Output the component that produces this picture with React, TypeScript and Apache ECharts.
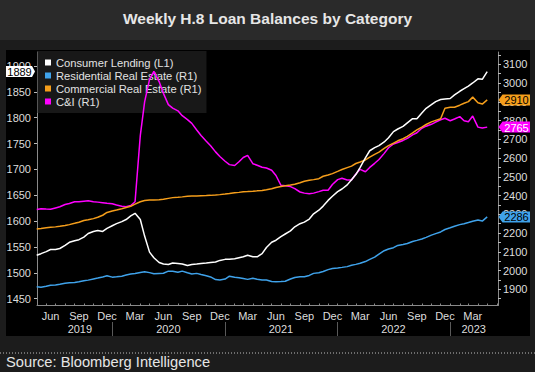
import React, { useEffect, useRef } from "react";
import * as echarts from "echarts";

const dates = [
  "2019-05-01","2019-05-15","2019-06-01","2019-06-15","2019-07-01","2019-07-15","2019-08-01","2019-08-15",
  "2019-09-01","2019-09-15","2019-10-01","2019-10-15","2019-11-01","2019-11-15","2019-12-01","2019-12-15",
  "2020-01-01","2020-01-15","2020-02-01","2020-02-15","2020-03-01","2020-03-15","2020-04-01","2020-04-15",
  "2020-05-01","2020-05-15","2020-06-01","2020-06-15","2020-07-01","2020-07-15","2020-08-01","2020-08-15",
  "2020-09-01","2020-09-15","2020-10-01","2020-10-15","2020-11-01","2020-11-15","2020-12-01","2020-12-15",
  "2021-01-01","2021-01-15","2021-02-01","2021-02-15","2021-03-01","2021-03-15","2021-04-01","2021-04-15",
  "2021-05-01","2021-05-15","2021-06-01","2021-06-15","2021-07-01","2021-07-15","2021-08-01","2021-08-15",
  "2021-09-01","2021-09-15","2021-10-01","2021-10-15","2021-11-01","2021-11-15","2021-12-01","2021-12-15",
  "2022-01-01","2022-01-15","2022-02-01","2022-02-15","2022-03-01","2022-03-15","2022-04-01","2022-04-15",
  "2022-05-01","2022-05-15","2022-06-01","2022-06-15","2022-07-01","2022-07-15","2022-08-01","2022-08-15",
  "2022-09-01","2022-09-15","2022-10-01","2022-10-15","2022-11-01","2022-11-15","2022-12-01","2022-12-15",
  "2023-01-01","2023-01-15","2023-02-01","2023-02-15","2023-03-01","2023-03-15","2023-04-01","2023-04-15",
  "2023-05-01",
];

const consumerLending = [
  1534,1537,1541,1545,1545,1547,1553,1559,1562,1564,1569,1576,1580,1582,1580,1586,
  1591,1595,1599,1603,1610,1615,1603,1571,1540,1529,1520,1517,1516,1519,1518,1517,1514,1516,1517,1518,1519,1520,1521,1524,
  1526,1526,1527,1529,1531,1534,1531,1531,1537,1549,1559,1563,1570,1575,1581,1589,1595,1598,1604,1614,1621,1629,1640,1648,
  1657,1662,1670,1680,1690,1704,1722,1736,1742,1746,1753,1761,1773,1778,1783,1790,1798,1798,1809,1818,1825,1831,1835,1836,
  1837,1844,1851,1856,1861,1867,1875,1874,1889,
];

const residentialRE = [
  1914,1911,1916,1922,1923,1927,1932,1935,1936,1940,1946,1949,1955,1960,1966,1972,
  1965,1967,1970,1976,1982,1984,1990,1994,1989,1983,1985,1986,1997,1996,1991,1997,1988,1982,1985,1979,1972,1966,1952,1950,
  1955,1970,1964,1962,1958,1953,1959,1954,1950,1950,1942,1941,1942,1943,1955,1963,1967,1967,1974,1985,1988,1995,2005,2011,
  2014,2017,2021,2028,2033,2039,2048,2060,2072,2088,2106,2115,2122,2134,2139,2144,2155,2161,2168,2177,2189,2197,2206,2219,
  2228,2236,2245,2250,2256,2263,2270,2264,2286,
];

const commercialRE = [
  2222,2224,2228,2231,2233,2236,2240,2245,2252,2258,2267,2271,2277,2284,2295,2310,
  2318,2323,2330,2336,2343,2354,2367,2374,2376,2376,2378,2380,2385,2389,2391,2393,2396,2398,2398,2399,2400,2401,2403,2405,
  2408,2411,2415,2417,2420,2421,2423,2425,2427,2431,2436,2443,2448,2452,2456,2460,2468,2476,2482,2485,2490,2503,2510,2517,
  2529,2539,2549,2557,2571,2579,2590,2605,2620,2632,2652,2666,2679,2692,2703,2716,2734,2750,2765,2779,2793,2801,2810,2866,
  2871,2871,2882,2892,2901,2925,2895,2888,2910,
];

const cAndI = [
  2326,2330,2328,2327,2334,2340,2352,2358,2367,2367,2370,2372,2367,2365,2362,2359,
  2356,2350,2343,2341,2347,2367,2720,2900,3020,3062,3008,2945,2885,2866,2852,2826,2805,2785,2750,2720,2690,2666,2633,2608,
  2583,2565,2560,2580,2603,2614,2570,2562,2551,2547,2535,2507,2455,2452,2448,2437,2419,2413,2410,2413,2421,2428,2428,2459,
  2485,2492,2483,2483,2515,2540,2527,2550,2572,2592,2625,2655,2675,2683,2694,2705,2724,2735,2759,2770,2780,2792,2804,2812,
  2799,2808,2821,2799,2794,2824,2765,2760,2765,
];

const seriesNames = ["Consumer Lending (L1)", "Residential Real Estate (R1)", "Commercial Real Estate (R1)", "C&I (R1)"];
const seriesColors = ["#ffffff", "#3fa2ea", "#f59e1b", "#ff00ff"];
const tagTextColors = ["#000000", "#000000", "#000000", "#ffffff"];

const leftLabels = [1450, 1500, 1550, 1600, 1650, 1700, 1750, 1800, 1850, 1900];
const rightLabels = [1900, 2000, 2100, 2200, 2300, 2400, 2500, 2600, 2700, 2800, 2900, 3000, 3100];
const rightTicks = [
  1850, 1900, 1950, 2000, 2050, 2100, 2150, 2200, 2250, 2300, 2350, 2400, 2450, 2500,
  2550, 2600, 2650, 2700, 2750, 2800, 2850, 2900, 2950, 3000, 3050, 3100, 3150,
];
const monthLabelDates = [
  "2019-06-15","2019-09-15","2019-12-15","2020-03-15","2020-06-15","2020-09-15","2020-12-15",
  "2021-03-15","2021-06-15","2021-09-15","2021-12-15","2022-03-15","2022-06-15","2022-09-15",
  "2022-12-15","2023-03-15",
];
const monthNames = ["Jan","Feb","Mar","Apr","May","Jun","Jul","Aug","Sep","Oct","Nov","Dec"];
const yearLabelDates = ["2019-09-18", "2020-07-01", "2021-07-01", "2022-07-01", "2023-03-18"];
const yearBoundaries = ["2020-01-01", "2021-01-01", "2022-01-01", "2023-01-01"];
const xStart = "2019-05-02";
const xEnd = "2023-06-05";

const FONT = "'Liberation Sans', Arial, sans-serif";
const ts = (d: string) => Date.parse(d + "T00:00:00Z");

export default function App() {
  const ref = useRef<HTMLDivElement>(null);

  useEffect(() => {
    if (!ref.current) return;
    const chart = echarts.init(ref.current, undefined, { renderer: "svg" });

    const monthTicks: number[] = [];
    for (let y = 2019; y <= 2023; y++) {
      for (let m = 0; m < 12; m++) {
        const t = Date.UTC(y, m, 1);
        if (t > ts(xStart) && t < ts(xEnd)) monthTicks.push(t);
      }
    }

    const allSeries = [consumerLending, residentialRE, commercialRE, cAndI];

    const staticGraphics: any[] = [
      { type: "rect", id: "titleband", z: -10, silent: true, shape: { x: 0, y: 0, width: 535, height: 40 }, style: { fill: "#2a2a2a" } },
      { type: "rect", id: "panel", z: -9, silent: true, shape: { x: 6, y: 50, width: 524, height: 286 }, style: { fill: "#000000" } },
      {
        type: "text", id: "title", z: 10, x: 267.5, y: 18,
        style: { text: "Weekly H.8 Loan Balances by Category", fill: "#e6e6e6", font: `bold 15.5px ${FONT}`, align: "center", verticalAlign: "middle" },
      },
      {
        type: "line", id: "dots", z: 10, silent: true,
        shape: { x1: 0, y1: 353, x2: 535, y2: 353 },
        style: { stroke: "#bdbdbd", lineWidth: 1, lineDash: [1, 2] },
      },
      {
        type: "text", id: "source", z: 10, x: 6, y: 362,
        style: { text: "Source: Bloomberg Intelligence", fill: "#e6e6e6", font: `14.7px ${FONT}`, align: "left", verticalAlign: "middle" },
      },
    ];

    chart.setOption({
      animation: false,
      backgroundColor: "#1c1c1c",
      textStyle: { fontFamily: FONT },
      grid: { left: 37, right: 37, top: 52, bottom: 66.5, containLabel: false },
      legend: {
        orient: "vertical",
        left: 37,
        top: 51,
        z: 1,
        backgroundColor: "rgba(44,44,44,0.55)",
        padding: [5, 5, 5, 8],
        itemWidth: 6,
        itemHeight: 6,
        itemGap: 0,
        icon: "rect",
        selectedMode: false,
        textStyle: { color: "#e2e2e2", fontSize: 11.2, lineHeight: 13, fontFamily: FONT },
        data: seriesNames,
      },
      xAxis: [
        {
          type: "value",
          min: ts(xStart),
          max: ts(xEnd),
          splitLine: { show: false },
          axisLine: { show: true, lineStyle: { color: "#8a8a8a", width: 1 } },
          axisTick: { show: true, inside: true, length: 2, customValues: monthTicks, lineStyle: { color: "#8a8a8a" } },
          axisLabel: {
            color: "#dddddd",
            fontSize: 11,
            margin: 5,
            fontFamily: FONT,
            customValues: monthLabelDates.map(ts),
            formatter: (v: number) => monthNames[new Date(v).getUTCMonth()],
          },
        },
        {
          type: "value",
          position: "bottom",
          min: ts(xStart),
          max: ts(xEnd),
          splitLine: { show: false },
          axisLine: { show: false },
          axisTick: { show: false },
          axisLabel: {
            color: "#dddddd",
            fontSize: 11,
            margin: 18,
            fontFamily: FONT,
            customValues: yearLabelDates.map(ts),
            formatter: (v: number) => String(new Date(v).getUTCFullYear()),
          },
        },
        {
          type: "value",
          position: "bottom",
          offset: 16.5,
          min: ts(xStart),
          max: ts(xEnd),
          splitLine: { show: false },
          axisLine: { show: false },
          axisTick: { show: true, length: 14, customValues: yearBoundaries.map(ts), lineStyle: { color: "#5a5a5a", width: 1 } },
          axisLabel: { show: false },
        },
      ],
      yAxis: [
        {
          type: "value",
          position: "left",
          min: 1436.8,
          max: 1926.9,
          splitLine: { show: false },
          axisLine: { show: true, lineStyle: { color: "#8a8a8a", width: 1 } },
          axisTick: { show: true, length: 3, customValues: leftLabels, lineStyle: { color: "#bbbbbb" } },
          axisLabel: {
            color: "#dddddd", fontSize: 11, margin: 6, fontFamily: FONT, customValues: leftLabels,
            formatter: (v: number) => String(v),
          },
        },
        {
          type: "value",
          position: "right",
          min: 1813.7,
          max: 3165.6,
          splitLine: { show: false },
          axisLine: { show: true, lineStyle: { color: "#8a8a8a", width: 1 } },
          axisTick: { show: true, length: 3, customValues: rightTicks, lineStyle: { color: "#bbbbbb" } },
          axisLabel: {
            color: "#dddddd", fontSize: 11, margin: 5, fontFamily: FONT, customValues: rightLabels,
            formatter: (v: number) => String(v),
          },
        },
      ],
      series: seriesNames.map((name, i) => ({
        name,
        type: "line",
        xAxisIndex: 0,
        yAxisIndex: i === 0 ? 0 : 1,
        showSymbol: false,
        symbol: "none",
        z: 2 + (3 - i),
        color: seriesColors[i],
        lineStyle: { color: seriesColors[i], width: 1.5 },
        emphasis: { disabled: true },
        data: dates.map((d, k) => [ts(d), allSeries[i][k]]),
      })),
      graphic: { elements: staticGraphics },
    });

    // value tags on the axes, positioned through the axes' own scales
    const tags: any[] = [];
    allSeries.forEach((arr, i) => {
      const last = arr[arr.length - 1];
      const y = chart.convertToPixel({ yAxisIndex: i === 0 ? 0 : 1 }, last) as number;
      if (i === 0) {
        tags.push({
          type: "polygon", id: "tagbg" + i, z: 100,
          shape: { points: [[6, y - 5.5], [32, y - 5.5], [35, y], [32, y + 5.5], [6, y + 5.5]] },
          style: { fill: seriesColors[i] },
        });
        tags.push({
          type: "text", id: "tagtx" + i, z: 101, x: 19.5, y: y + 0.5,
          style: { text: String(last), fill: tagTextColors[i], font: `11px ${FONT}`, align: "center", verticalAlign: "middle" },
        });
      } else {
        tags.push({
          type: "polygon", id: "tagbg" + i, z: 100,
          shape: { points: [[498.5, y], [502.5, y - 5.5], [530, y - 5.5], [530, y + 5.5], [502.5, y + 5.5]] },
          style: { fill: seriesColors[i] },
        });
        tags.push({
          type: "text", id: "tagtx" + i, z: 101, x: 516.5, y: y + 0.5,
          style: { text: String(last), fill: tagTextColors[i], font: `11px ${FONT}`, align: "center", verticalAlign: "middle" },
        });
      }
    });
    chart.setOption({ graphic: { elements: [...staticGraphics, ...tags] } });

    return () => chart.dispose();
  }, []);

  return (
    <div
      ref={ref}
      style={{ position: "fixed", left: 0, top: 0, width: 535, height: 372 }}
    />
  );
}
